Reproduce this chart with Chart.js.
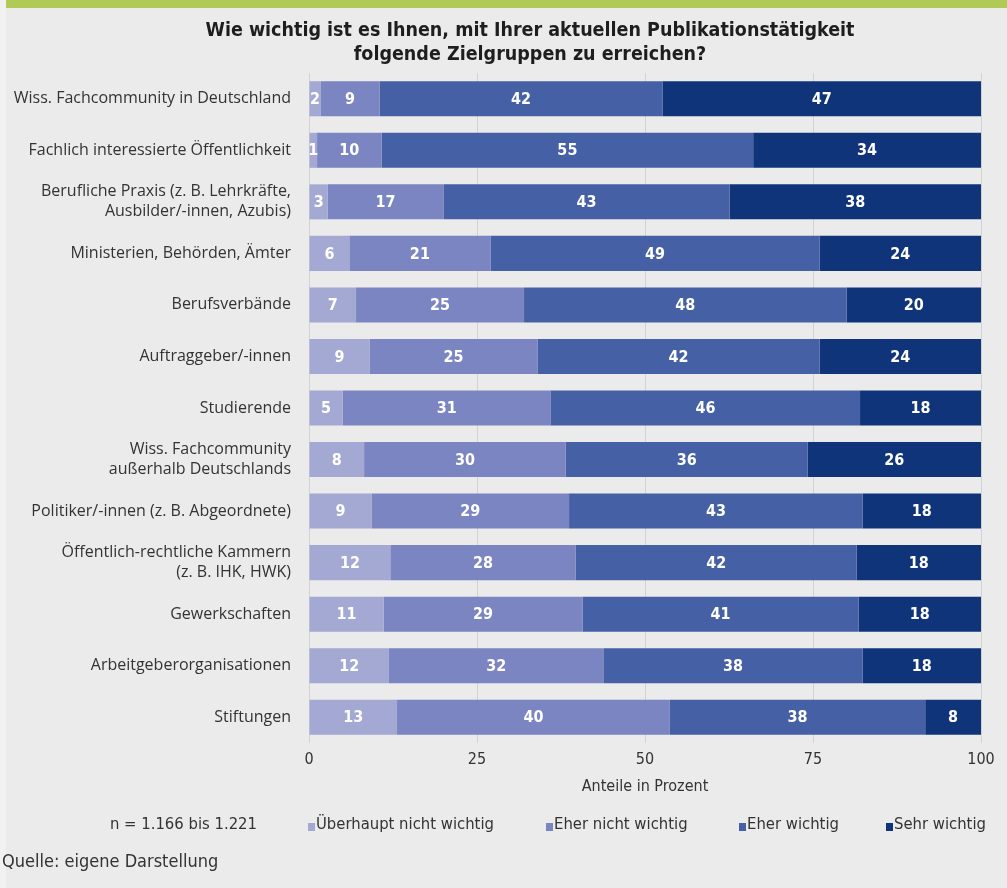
<!DOCTYPE html>
<html>
<head>
<meta charset="utf-8">
<script src="https://cdn.jsdelivr.net/npm/chart.js@4.4.1/dist/chart.umd.min.js"></script>
<style>
  html, body { margin: 0; padding: 0; background: #ebebeb; }
  #wrap { width: 1007px; height: 888px; position: relative; }
</style>
</head>
<body>
<div id="wrap"><canvas id="c" width="1007" height="888"></canvas></div>
<script>
const categories = [
  "Wiss. Fachcommunity in Deutschland",
  "Fachlich interessierte Öffentlichkeit",
  ["Berufliche Praxis (z. B. Lehrkräfte,", "Ausbilder/-innen, Azubis)"],
  "Ministerien, Behörden, Ämter",
  "Berufsverbände",
  "Auftraggeber/-innen",
  "Studierende",
  ["Wiss. Fachcommunity", "außerhalb Deutschlands"],
  "Politiker/-innen (z. B. Abgeordnete)",
  ["Öffentlich-rechtliche Kammern", "(z. B. IHK, HWK)"],
  "Gewerkschaften",
  "Arbeitgeberorganisationen",
  "Stiftungen"
];
const seriesNames = ["Überhaupt nicht wichtig", "Eher nicht wichtig", "Eher wichtig", "Sehr wichtig"];

// bar lengths (shares in %, as measured from the bar segments)
const ueberhauptNicht = [1.7, 1.2, 2.8, 6, 7, 9, 5, 8.2, 9.3, 12.1, 11.1, 11.9, 13.1];
const eherNicht       = [8.8, 9.6, 17.2, 21, 25, 25, 31, 30.0, 29.4, 27.6, 29.6, 31.9, 40.6];
const eherWichtig     = [42.1, 55.3, 42.6, 49, 48, 42, 46, 36.0, 43.7, 41.8, 41.1, 38.6, 38.0];
const sehrWichtig     = [47.4, 33.9, 37.4, 24, 20, 24, 18, 25.8, 17.6, 18.5, 18.2, 17.6, 8.3];

// printed value labels (rounded percentages as shown in the chart)
const lblUeberhauptNicht = [2, 1, 3, 6, 7, 9, 5, 8, 9, 12, 11, 12, 13];
const lblEherNicht       = [9, 10, 17, 21, 25, 25, 31, 30, 29, 28, 29, 32, 40];
const lblEherWichtig     = [42, 55, 43, 49, 48, 42, 46, 36, 43, 42, 41, 38, 38];
const lblSehrWichtig     = [47, 34, 38, 24, 20, 24, 18, 26, 18, 18, 18, 18, 8];

const xTicks = [0, 25, 50, 75, 100];

const titleLines = ["Wie wichtig ist es Ihnen, mit Ihrer aktuellen Publikationstätigkeit", "folgende Zielgruppen zu erreichen?"];
const axisTitle = "Anteile in Prozent";
const sampleNote = "n = 1.166 bis 1.221";
const sourceNote = "Quelle: eigene Darstellung";

const colors = ["#a4a9d4", "#7b85c1", "#4560a4", "#10347a"];
const COND = "'Liberation Sans Narrow', 'DejaVu Sans Condensed', 'Roboto Condensed', sans-serif";
const REG = "'Open Sans', 'Noto Sans', sans-serif";

const allSeries = [ueberhauptNicht, eherNicht, eherWichtig, sehrWichtig];
const allLabels = [lblUeberhauptNicht, lblEherNicht, lblEherWichtig, lblSehrWichtig];

const decor = {
  id: 'decor',
  beforeDraw(chart) {
    const ctx = chart.ctx;
    ctx.save();
    ctx.fillStyle = '#ebebeb';
    ctx.fillRect(0, 0, chart.width, chart.height);
    ctx.fillStyle = '#f1f1f1';
    ctx.fillRect(0, 0, 6, chart.height);
    ctx.fillStyle = '#b1c955';
    ctx.fillRect(6, 0, chart.width - 6, 8);
    // title
    ctx.fillStyle = '#1e1e1e';
    ctx.font = "bold 19.5px " + COND;
    ctx.textAlign = 'center';
    ctx.textBaseline = 'middle';
    ctx.fillText(titleLines[0], 530, 31);
    ctx.fillText(titleLines[1], 530, 55);
    // axis title
    const ca = chart.chartArea;
    ctx.font = "16px " + COND;
    ctx.fillStyle = '#333';
    ctx.fillText(axisTitle, (ca.left + ca.right) / 2, 787);
    // legend
    ctx.font = "16.5px " + COND;
    ctx.fillStyle = '#333';
    ctx.textAlign = 'left';
    ctx.fillText(sampleNote, 110, 825);
    const lx = [308, 546, 739, 886];
    seriesNames.forEach((n, i) => {
      ctx.fillStyle = colors[i];
      ctx.fillRect(lx[i], 823, 7, 8);
      ctx.fillStyle = '#333';
      ctx.fillText(n, lx[i] + 8, 825);
    });
    ctx.font = "18px " + COND;
    ctx.fillStyle = '#333';
    ctx.fillText(sourceNote, 2, 862);
    ctx.restore();
  },
  afterDatasetsDraw(chart) {
    const ctx = chart.ctx;
    ctx.save();
    ctx.font = "bold 16px " + COND;
    ctx.fillStyle = '#ffffff';
    ctx.textAlign = 'center';
    ctx.textBaseline = 'middle';
    const right = chart.chartArea.right;
    chart.data.datasets.forEach((ds, i) => {
      const meta = chart.getDatasetMeta(i);
      meta.data.forEach((el, j) => {
        const x1 = Math.min(el.x, right), x0 = Math.min(el.base, right);
        ctx.fillText(String(allLabels[i][j]), (x0 + x1) / 2, el.y + 1);
      });
    });
    ctx.restore();
  }
};

new Chart(document.getElementById('c'), {
  type: 'bar',
  data: {
    labels: categories,
    datasets: allSeries.map((d, i) => ({
      label: seriesNames[i],
      data: d,
      backgroundColor: colors[i],
      borderWidth: 0,
      categoryPercentage: 0.68,
      barPercentage: 1.0
    }))
  },
  options: {
    indexAxis: 'y',
    responsive: false,
    animation: false,
    devicePixelRatio: 1,
    layout: { padding: { top: 73, right: 26, bottom: 105, left: 0 } },
    plugins: {
      legend: { display: false },
      title: { display: false },
      tooltip: { enabled: false }
    },
    scales: {
      x: {
        stacked: true,
        min: 0, max: 100,
        afterBuildTicks(scale) { scale.ticks = xTicks.map(v => ({ value: v })); },
        afterFit(scale) { scale.height = 40; },
        grid: { color: '#d2d2d2', drawTicks: false, lineWidth: 1 },
        border: { display: false },
        ticks: { padding: 7, color: '#333', font: { family: COND, size: 16, lineHeight: 1.2 } },
        title: { display: false }
      },
      y: {
        stacked: true,
        afterFit(scale) { scale.width = 309; },
        grid: { display: false },
        border: { display: false },
        ticks: { padding: 10, color: '#333', font: { family: REG, size: 16, lineHeight: 1.25 } }
      }
    }
  },
  plugins: [decor]
});
</script>
</body>
</html>
